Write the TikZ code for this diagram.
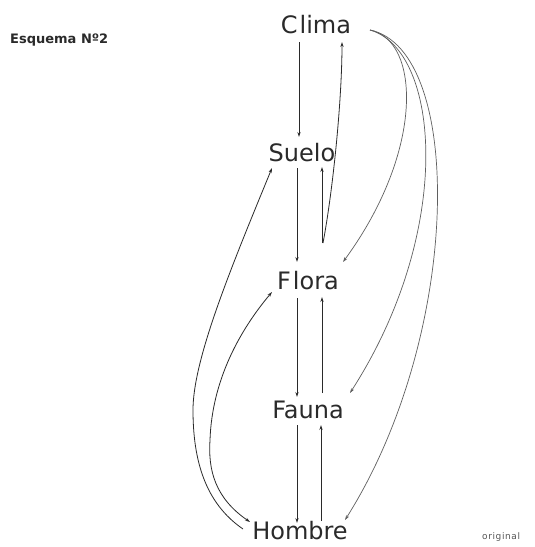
\documentclass[tikz,border=0pt]{standalone}
\usepackage{fontspec}
\setmainfont{DejaVu Sans}
\usetikzlibrary{arrows.meta,calc}
\definecolor{ink}{HTML}{2A2A2A}
\begin{document}
\begin{tikzpicture}[x=1pt,y=-1pt,
  lbl/.style={font=\fontsize{24}{26}\selectfont, inner sep=0pt, anchor=base, text=ink, text depth=0pt},
  con/.style={draw=ink, line width=0.8pt, -{Stealth[length=5pt,width=3.2pt]}},
  dcon/.style={draw=ink, line width=0.8pt, {Stealth[length=5pt,width=3.2pt]}-{Stealth[length=5pt,width=3.2pt]}},
  lcon/.style={draw=ink!75, line width=0.7pt, -{Stealth[length=5pt,width=3.2pt]}}]
\useasboundingbox (0,0) rectangle (535,547);
\fill[white] (0,0) rectangle (535,547);

\node[lbl] (clima)  at (316,33)  {C\kern2pt lima};
\node[lbl] (suelo)  at (302,161) {Suelo};
\node[lbl] (flora)  at (308,289) {F\kern2pt lora};
\node[lbl] (fauna)  at (308,418) {Fauna};
\node[lbl] (hombre) at (300,539) {Hombre};
\node[font=\bfseries\fontsize{13}{15}\selectfont, inner sep=0pt, anchor=base west, text=ink] (esq) at (10,43) {Esquema Nº2};
\node[font=\fontsize{9}{11}\selectfont, inner sep=0pt, anchor=base west, text=ink!80] (orig) at (482,539) {o\kern.6pt r\kern.6pt i\kern.6pt g\kern.6pt i\kern.6pt n\kern.6pt a\kern.6pt l};

% vertical connectors
\draw[con] ($(clima.base)+(-17,9)$) -- ($(suelo.base)+(-3,-24)$);
\draw[con] ($(flora.base)+(14,-46)$) -- ($(suelo.base)+(20,6)$);
\draw[con] ($(flora.base)+(15,-46)$) .. controls (333,190) and (342,100) .. ($(clima.base)+(26,9)$);
\draw[con] ($(suelo.base)+(-5,7)$) -- ($(flora.base)+(-11,-27)$);
\draw[con] ($(flora.base)+(-11,9)$) -- ($(fauna.base)+(-11,-21)$);
\draw[con] ($(fauna.base)+(14,-25)$) -- ($(flora.base)+(14,8)$);
\draw[con] ($(fauna.base)+(-11,7)$) -- ($(hombre.base)+(-3,-16)$);
\draw[con] ($(hombre.base)+(21,-18)$) -- ($(fauna.base)+(13,7)$);

% left curves
\draw[con] ($(hombre.base)+(-57,-10)$) .. controls (205,503) and (193,460) .. (193,410)
  .. controls (193,360) and (230,270) .. ($(suelo.base)+(-30,7)$);
\draw[dcon] ($(hombre.base)+(-50,-17)$) .. controls (215,498) and (208,470) .. (210,440)
  .. controls (212,380) and (240,330) .. ($(flora.base)+(-36,3)$);

% right curves from Clima
\draw[lcon] ($(clima.base)+(54,-3)$) .. controls (420,40) and (425,150) .. ($(flora.base)+(35,-27)$);
\draw[lcon] ($(clima.base)+(54,-3)$) .. controls (440,50) and (455,230) .. ($(fauna.base)+(42,-25)$);
\draw[lcon] ($(clima.base)+(54,-3)$) .. controls (465,50) and (462,335) .. ($(hombre.base)+(45,-19)$);
\end{tikzpicture}
\end{document}
